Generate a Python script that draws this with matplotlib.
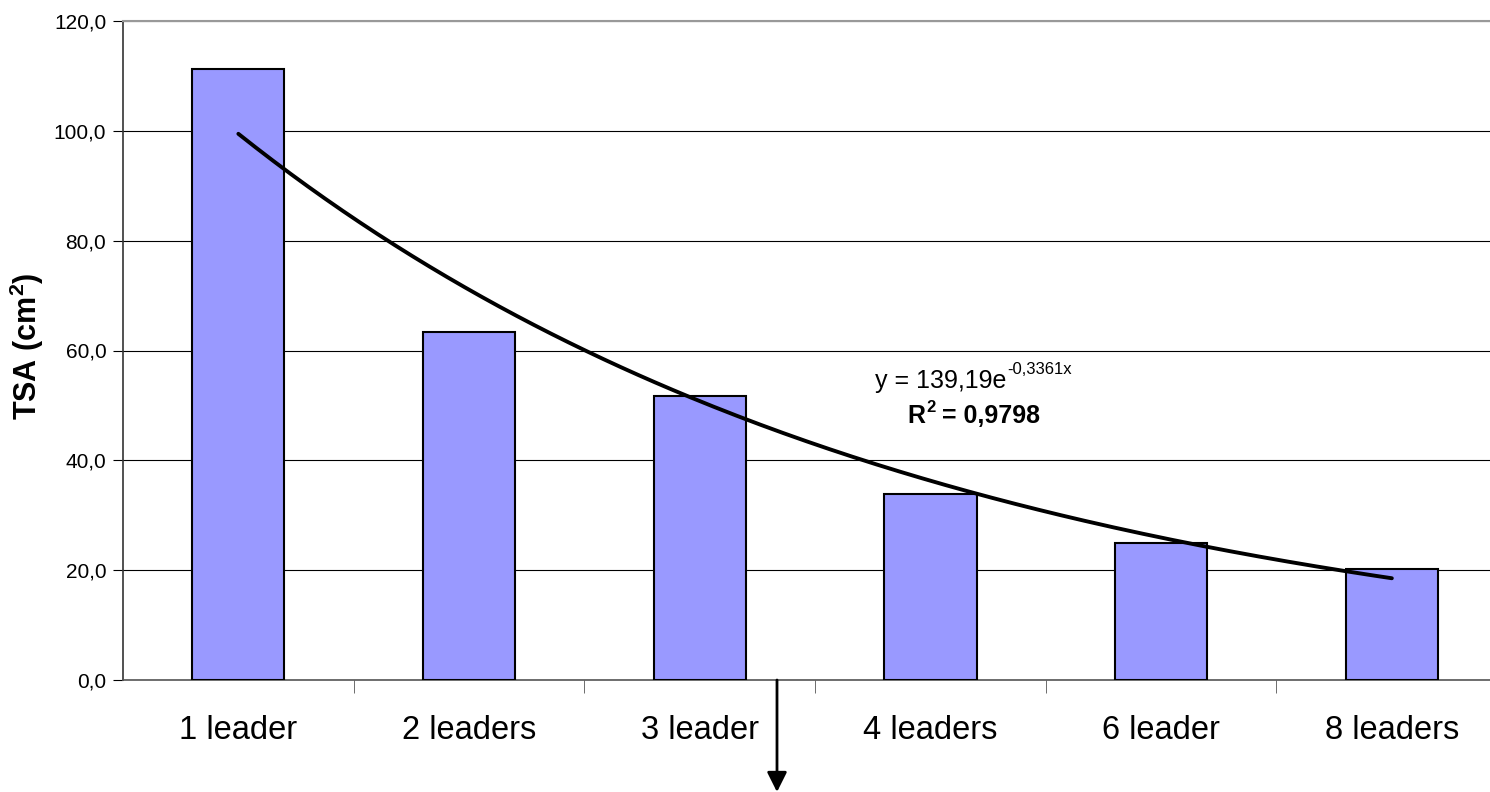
import numpy as np
import matplotlib
matplotlib.use("Agg")
import matplotlib.pyplot as plt
from matplotlib.ticker import FuncFormatter, FixedLocator

plt.rcParams['font.family'] = ['Liberation Sans', 'DejaVu Sans']
plt.rcParams['mathtext.fontset'] = 'custom'
plt.rcParams['mathtext.rm'] = 'Liberation Sans'
plt.rcParams['mathtext.it'] = 'Liberation Sans'
plt.rcParams['mathtext.bf'] = 'Liberation Sans:bold'

categories = ["1 leader", "2 leaders", "3 leader", "4 leaders", "6 leader", "8 leaders"]
tsa_values = [111.3, 63.3, 51.8, 33.8, 24.9, 20.2]
trend_a = 139.19
trend_b = -0.3361
trend_x = np.arange(1, 7)
eq_base = "y = 139,19e"
eq_exp = "-0,3361x"
r2_text = " = 0,9798"

W, H = 1490, 792
fig = plt.figure(figsize=(W / 100, H / 100), dpi=100)
left = 123 / W
right_px = 123 + 6 * 230.7
bottom = 1 - 680 / H
top = 1 - 21 / H
ax = fig.add_axes([left, bottom, right_px / W - left, top - bottom])

pos = np.arange(len(categories))
ax.bar(pos, tsa_values, width=0.4, color="#9999ff", edgecolor="black", linewidth=1.5, zorder=3)

xs = np.linspace(trend_x[0], trend_x[-1], 200)
ax.plot(xs - 1, trend_a * np.exp(trend_b * xs), color="black", lw=2.8, zorder=4,
        solid_capstyle="round")

ax.set_xlim(-0.5, 5.5)
ax.set_ylim(0, 120)
ax.set_yticks(np.arange(0, 121, 20))
ax.yaxis.set_major_formatter(FuncFormatter(lambda v, p: f"{v:.1f}".replace(".", ",")))
ax.grid(axis="y", color="black", lw=0.8, zorder=0)
ax.set_axisbelow(True)

ax.set_xticks(pos)
ax.set_xticklabels(categories, fontsize=23.5)
ax.tick_params(axis="x", which="major", length=0, pad=25)
ax.xaxis.set_minor_locator(FixedLocator(np.arange(0.5, 5.6, 1.0)))
ax.tick_params(axis="x", which="minor", length=9, color="#555555")
ax.tick_params(axis="y", labelsize=15, length=7, direction="out", pad=5)

ax.spines["right"].set_visible(False)
ax.spines["top"].set_color("#999999")
ax.spines["top"].set_linewidth(1.5)
ax.spines["left"].set_color("#333333")
ax.spines["left"].set_linewidth(1.2)
ax.spines["bottom"].set_color("#555555")
ax.spines["bottom"].set_linewidth(1.2)

fig.text(27 / W, 1 - 346 / H, r"TSA (cm$^\mathbf{2}$)", rotation=90, fontsize=22,
         fontweight="bold", ha="center", va="center")

# equation label: base text + superscript
renderer = fig.canvas.get_renderer()
eq_x_px, eq_base_px = 875, 388
t1 = fig.text(eq_x_px / W, 1 - eq_base_px / H, eq_base, fontsize=18, ha="left", va="baseline")
bb = t1.get_window_extent(renderer)
fig.text((bb.x1 + 1) / W, 1 - (eq_base_px - 14) / H, eq_exp, fontsize=12, ha="left", va="baseline")

r2_x_px, r2_base_px = 907, 423
t2 = fig.text(r2_x_px / W, 1 - r2_base_px / H, "R", fontsize=18, fontweight="bold",
              ha="left", va="baseline")
bb2 = t2.get_window_extent(renderer)
t3 = fig.text((bb2.x1 + 1) / W, 1 - (r2_base_px - 11) / H, "2", fontsize=12, fontweight="bold",
              ha="left", va="baseline")
bb3 = t3.get_window_extent(renderer)
fig.text(bb3.x1 / W, 1 - r2_base_px / H, r2_text, fontsize=18, fontweight="bold",
         ha="left", va="baseline")

fig.patches.append(matplotlib.patches.FancyArrowPatch(
    (777 / W, 1 - 680 / H), (777 / W, 0), transform=fig.transFigure,
    arrowstyle="-|>", mutation_scale=30, color="black", lw=2, shrinkA=0, shrinkB=0))

fig.savefig("out.png", dpi=100)
